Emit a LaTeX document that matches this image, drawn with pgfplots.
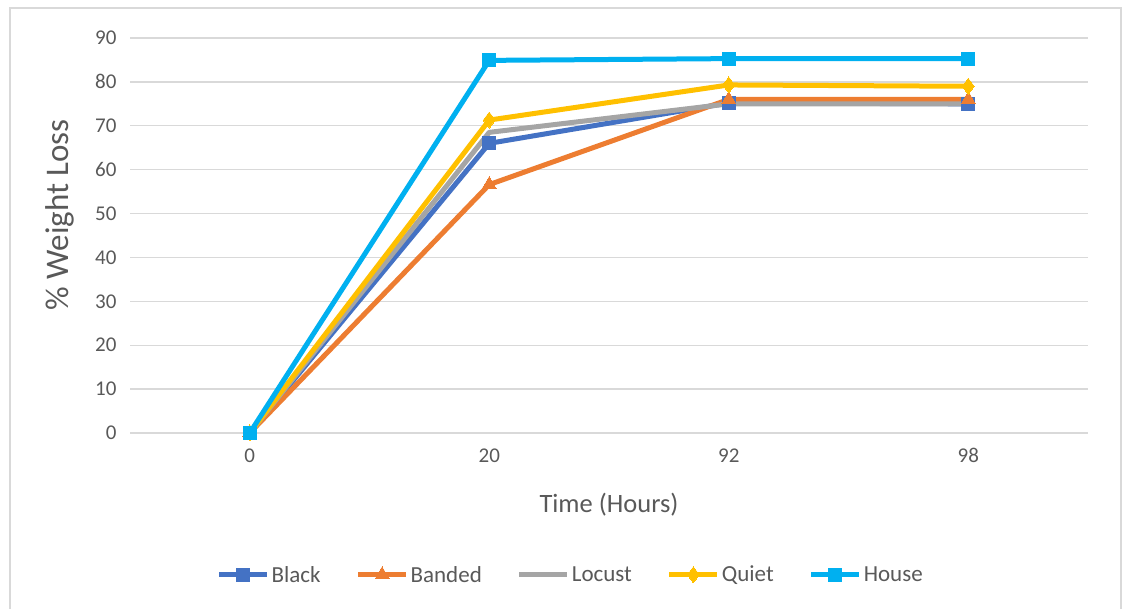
\documentclass[border=0pt]{standalone}
\usepackage{pgfplots}
\pgfplotsset{compat=1.18}
\usepackage{fontspec}
\setmainfont{Carlito}

\definecolor{cBlack}{HTML}{4472C4}
\definecolor{cBanded}{HTML}{ED7D31}
\definecolor{cLocust}{HTML}{A5A5A5}
\definecolor{cQuiet}{HTML}{FFC000}
\definecolor{cHouse}{HTML}{00B0F0}
\definecolor{txt}{HTML}{595959}
\definecolor{gridc}{HTML}{D9D9D9}

\begin{document}
\begin{tikzpicture}
\path[use as bounding box] (0pt,0pt) rectangle (1129pt,609pt);
% chart area border
\draw[gridc, line width=1.3pt] (10pt,-5pt) -- (10pt,601pt) -- (1121pt,601pt) -- (1121pt,-5pt);
\coordinate (origin) at (130pt,176pt);
\begin{axis}[
  at={(origin)}, anchor=south west,
  scale only axis, width=958pt, height=395pt,
  xmin=-0.5, xmax=3.5, ymin=0, ymax=90,
  xtick={0,1,2,3}, xticklabels={0,20,92,98},
  ytick={0,10,...,90},
  ymajorgrids, grid style={gridc, line width=1.3pt},
  axis line style={draw=none}, tick style={draw=none},
  clip=false,
  /pgf/number format/assume math mode=true,
  ticklabel style={font=\fontsize{21}{25}\selectfont, text=txt},
  yticklabel style={xshift=-10pt},
  xticklabel style={yshift=-12pt},
  xlabel={Time (Hours)},
  ylabel={\% Weight Loss},
  xlabel style={font=\fontsize{26.5}{30}\selectfont, text=txt, at={(rel axis cs:0.5,-0.182)}, anchor=center},
  ylabel style={font=\fontsize{33}{38}\selectfont, text=txt, at={(rel axis cs:-0.073,0.552)}, anchor=center},
  legend style={at={(rel axis cs:0.46,-0.359)}, anchor=center, draw=none, fill=none,
    legend columns=5, font=\fontsize{23}{27}\selectfont, text=txt,
    /tikz/every even column/.append style={column sep=33pt},
    /tikz/every odd column/.append style={column sep=0pt}},
  legend cell align=left,
  legend image code/.code={\draw[mark repeat=2,mark phase=2] plot coordinates {(0pt,0pt) (24pt,0pt) (48pt,0pt)};},
  every axis plot/.append style={line width=5pt, line join=round},
]
\addplot[cBlack, mark=square*, mark size=6.5pt, mark options={line width=0pt}] coordinates {(0,0) (1,66.0) (2,75.2) (3,75.0)};
\addlegendentry{Black}
\addplot[cBanded, mark=triangle*, mark size=8pt, mark options={line width=0pt}] coordinates {(0,0) (1,56.6) (2,76.0) (3,76.0)};
\addlegendentry{Banded}
\addplot[cLocust] coordinates {(0,0) (1,68.5) (2,75.0) (3,75.0)};
\addlegendentry{Locust}
\addplot[cQuiet, mark=diamond*, mark size=8pt, mark options={line width=0pt}] coordinates {(0,0) (1,71.3) (2,79.3) (3,79.0)};
\addlegendentry{Quiet}
\addplot[cHouse, mark=square*, mark size=6.5pt, mark options={line width=0pt}] coordinates {(0,0) (1,84.9) (2,85.3) (3,85.3)};
\addlegendentry{House}
\end{axis}
\end{tikzpicture}
\end{document}
